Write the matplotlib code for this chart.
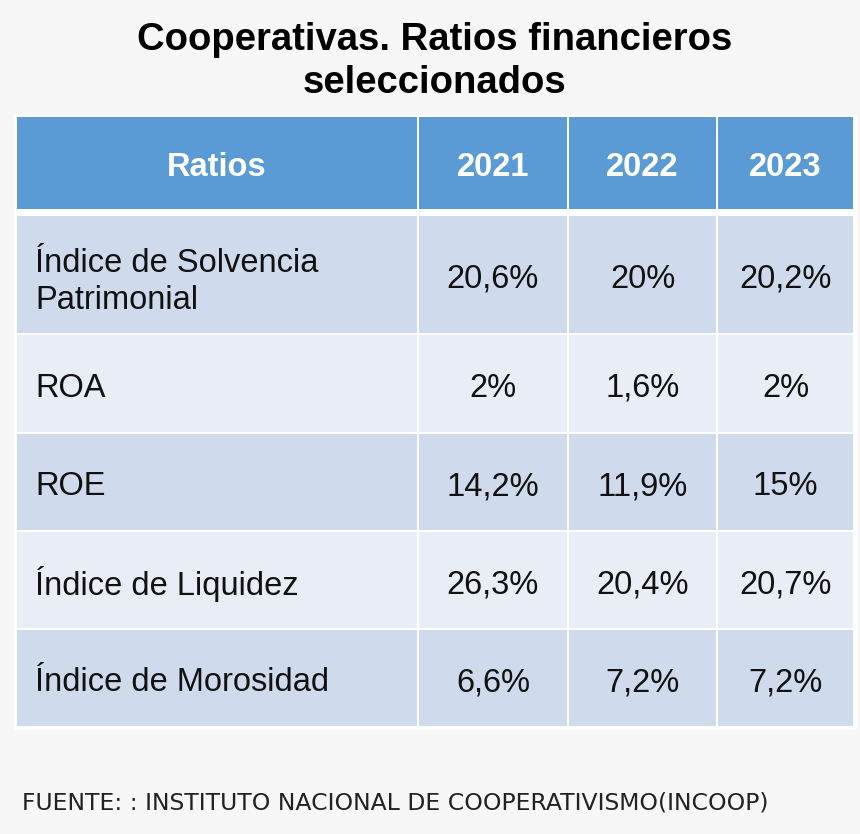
import matplotlib
matplotlib.use('Agg')
import matplotlib.pyplot as plt
from matplotlib.patches import Rectangle

title = 'Cooperativas. Ratios financieros\nseleccionados'
columns = ['Ratios', '2021', '2022', '2023']
ratios = ['Índice de Solvencia\nPatrimonial', 'ROA', 'ROE',
          'Índice de Liquidez', 'Índice de Morosidad']
v2021 = ['20,6%', '2%', '14,2%', '26,3%', '6,6%']
v2022 = ['20%', '1,6%', '11,9%', '20,4%', '7,2%']
v2023 = ['20,2%', '2%', '15%', '20,7%', '7,2%']
source = 'FUENTE: : INSTITUTO NACIONAL DE COOPERATIVISMO(INCOOP)'

plt.rcParams['font.family'] = ['Liberation Sans', 'DejaVu Sans']

# layout in pixels
col_edges = [16, 418, 568, 717, 854]
header_top, header_bot = 117, 209
row_edges = [215, 334, 433, 531, 629, 727]
gap = 2.5

header_col = '#5b9bd5'
dark_row = '#cfdaed'
light_row = '#e9edf6'
bg = '#f7f7f7'

fig = plt.figure(figsize=(8.6, 8.34), dpi=100, facecolor=bg)
ax = fig.add_axes([0, 0, 1, 1])
ax.set_xlim(0, 860)
ax.set_ylim(834, 0)
ax.axis('off')

# white behind the cells shows as the grid lines
ax.add_patch(Rectangle((col_edges[0] - gap, header_top - gap),
                       col_edges[-1] - col_edges[0] + 2 * gap,
                       row_edges[-1] - header_top + 2 * gap,
                       facecolor='white', edgecolor='none'))

for j in range(len(columns)):
    x0, x1 = col_edges[j], col_edges[j + 1]
    ax.add_patch(Rectangle((x0 + gap / 2, header_top), x1 - x0 - gap, header_bot - header_top,
                           facecolor=header_col, edgecolor='none'))
    ax.text((x0 + x1) / 2, (header_top + header_bot) / 2 + 1, columns[j], color='white',
            fontsize=23.5, fontweight='bold', ha='center', va='center_baseline')

cols = [ratios, v2021, v2022, v2023]
for i in range(len(ratios)):
    y0, y1 = row_edges[i], row_edges[i + 1]
    fc = dark_row if i % 2 == 0 else light_row
    for j in range(len(columns)):
        x0, x1 = col_edges[j], col_edges[j + 1]
        ax.add_patch(Rectangle((x0 + gap / 2, y0 + gap / 2), x1 - x0 - gap, y1 - y0 - gap,
                               facecolor=fc, edgecolor='none'))
        if j == 0:
            ax.text(x0 + 19, (y0 + y1) / 2 + 1, cols[j][i], fontsize=23.5, ha='left',
                    va='center_baseline', color='#111111', linespacing=1.25)
        else:
            ax.text((x0 + x1) / 2, (y0 + y1) / 2 + 1, cols[j][i], fontsize=23.5, ha='center',
                    va='center_baseline', color='#111111')

ax.text(435, 61, title, fontsize=27.5, fontweight='bold', ha='center', va='center',
        linespacing=1.25)
ax.text(22, 803, source, fontsize=16.9, ha='left', va='center', color='#222222',
        family=['DejaVu Sans'])

fig.savefig('out.png', dpi=100, facecolor=bg)
